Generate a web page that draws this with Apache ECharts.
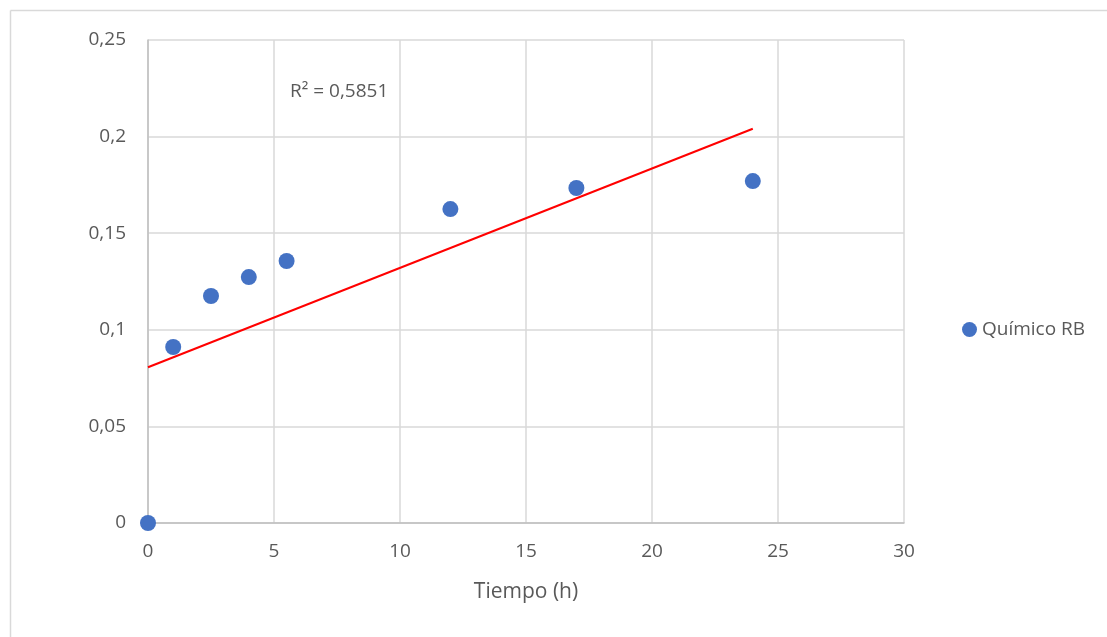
<!DOCTYPE html>
<html>
<head>
<meta charset="utf-8">
<script src="https://cdn.jsdelivr.net/npm/echarts@6/dist/echarts.min.js"></script>
<style>
  html, body { margin: 0; padding: 0; background: #fff; }
  #main { width: 1107px; height: 637px; }
</style>
</head>
<body>
<div id="main"></div>
<script>
// datos
var tiempo = [0, 1, 2.5, 4, 5.5, 12, 17, 24];
var quimicoRB = [0, 0.0911, 0.1175, 0.1273, 0.1356, 0.1625, 0.1734, 0.1770];
var yTicks = [0, 0.05, 0.1, 0.15, 0.2, 0.25];
var xTicks = [0, 5, 10, 15, 20, 25, 30];
var r2Label = 'R² = 0,5851';

// linea de tendencia (minimos cuadrados)
var n = tiempo.length, sx = 0, sy = 0, sxy = 0, sxx = 0;
for (var i = 0; i < n; i++) {
  sx += tiempo[i]; sy += quimicoRB[i];
  sxy += tiempo[i] * quimicoRB[i]; sxx += tiempo[i] * tiempo[i];
}
var pend = (n * sxy - sx * sy) / (n * sxx - sx * sx);
var inter = (sy - pend * sx) / n;
var xFin = tiempo[n - 1];
var tendencia = [[0, inter], [xFin, inter + pend * xFin]];

var fmt = function (v) { return String(+v.toFixed(2)).replace('.', ','); };

var chart = echarts.init(document.getElementById('main'));
chart.setOption({
  animation: false,
  textStyle: { fontFamily: 'Open Sans' },
  grid: { left: 148, top: 40, right: 203, bottom: 114 },
  legend: {
    data: [{ name: 'Químico RB', icon: 'circle' }],
    orient: 'vertical',
    left: 957, top: 315,
    itemWidth: 15, itemHeight: 15, itemGap: 4,
    textStyle: { fontSize: 19, color: '#595959', fontFamily: 'Open Sans' }
  },
  xAxis: {
    type: 'value', min: xTicks[0], max: xTicks[xTicks.length - 1], interval: 5,
    name: 'Tiempo (h)', nameLocation: 'middle', nameGap: 59,
    nameTextStyle: { fontSize: 21, color: '#595959' },
    axisLine: { show: true, lineStyle: { color: '#bfbfbf', width: 1.5 } },
    axisTick: { show: false },
    axisLabel: { fontSize: 19, color: '#595959', margin: 19 },
    splitLine: { lineStyle: { color: '#d9d9d9', width: 1.5 } }
  },
  yAxis: {
    type: 'value', min: yTicks[0], max: yTicks[yTicks.length - 1], interval: 0.05,
    axisLine: { show: true, lineStyle: { color: '#bfbfbf', width: 1.5 } },
    axisTick: { show: false },
    axisLabel: { fontSize: 19, color: '#595959', margin: 22, formatter: fmt },
    splitLine: { lineStyle: { color: '#d9d9d9', width: 1.5 } }
  },
  graphic: [
    { type: 'line', shape: { x1: 10.5, y1: 10.5, x2: 1107, y2: 10.5 }, style: { stroke: '#d9d9d9', lineWidth: 1.5 } },
    { type: 'line', shape: { x1: 10.5, y1: 10.5, x2: 10.5, y2: 637 }, style: { stroke: '#d9d9d9', lineWidth: 1.5 } },
    { type: 'text', left: 290, top: 82, style: { text: r2Label, fontSize: 19, fill: '#595959', fontFamily: 'Open Sans' } }
  ],
  series: [
    {
      name: 'Tendencia', type: 'line', data: tendencia,
      symbol: 'none', lineStyle: { color: '#ff0000', width: 2 }, z: 2
    },
    {
      name: 'Químico RB', type: 'scatter',
      data: tiempo.map(function (t, i) { return [t, quimicoRB[i]]; }),
      symbolSize: 16, itemStyle: { color: '#4472c4', opacity: 1 }, z: 3
    }
  ]
});
</script>
</body>
</html>
